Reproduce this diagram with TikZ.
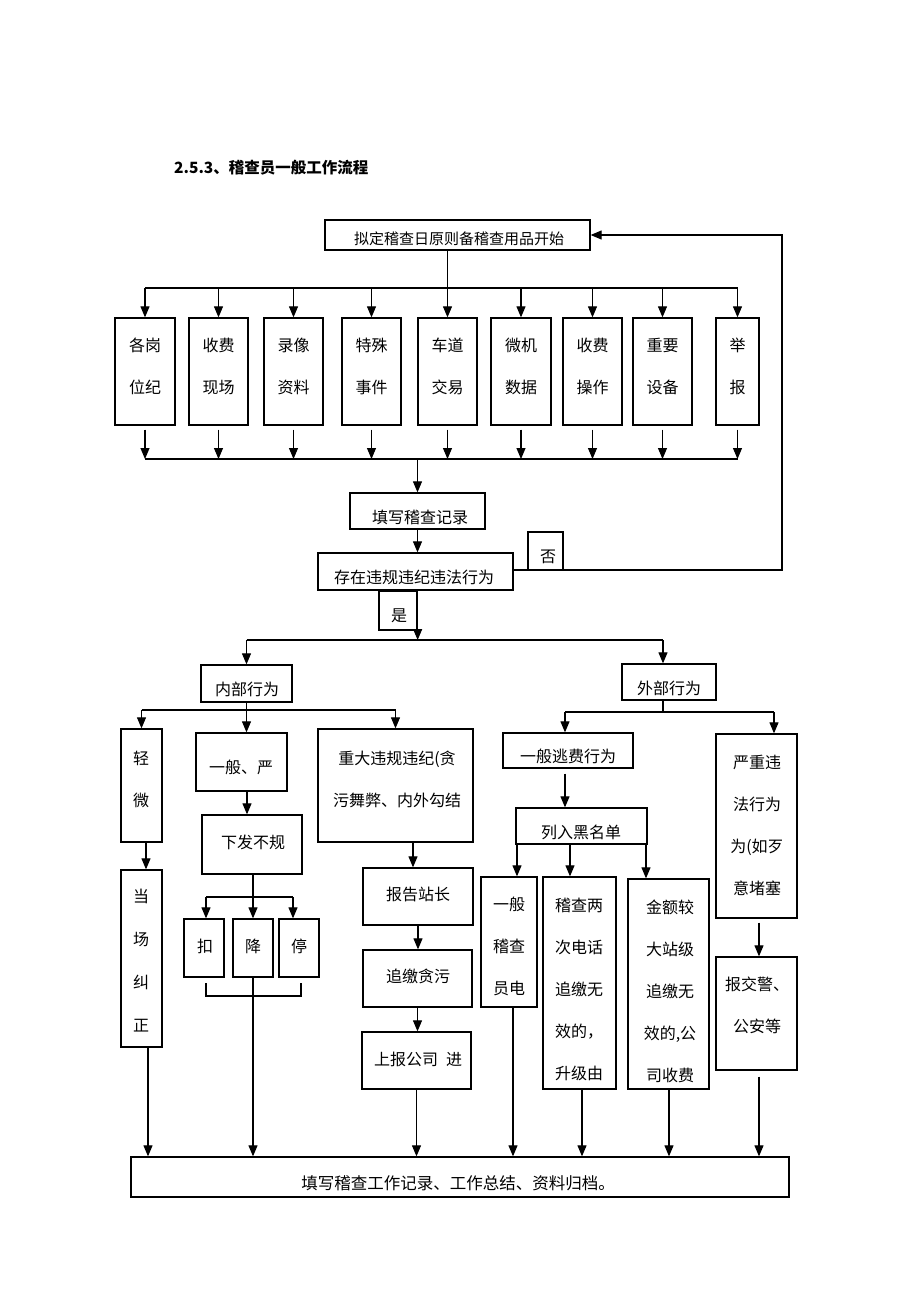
\documentclass[tikz,border=0pt]{standalone}
\usepackage{fontspec}
\setmainfont{Noto Sans CJK SC}
\usetikzlibrary{arrows.meta,fit}
\newcommand\mkbox[5]{\node[box, fit={(#2,#3) (#4,#5)}] (#1) {};}
\begin{document}
\begin{tikzpicture}[x=1pt,y=-1pt,
  box/.style={draw, line width=1.3pt, inner sep=0pt},
  txt/.style={inner sep=0pt, align=center, font=\fontsize{16}{42}\selectfont},
  ln/.style={line width=1.1pt},
  arr/.style={line width=1.1pt, -{Triangle[length=11pt,width=9pt]}}]
\useasboundingbox (0,0) rectangle (920,1302);
\fill[white] (0,0) rectangle (920,1302);

% helper coordinates
\coordinate (busT) at (0,288);
\coordinate (busB) at (0,459);
\coordinate (split) at (0,640);
\coordinate (s2) at (0,710);
\coordinate (s2w) at (0,712);
\coordinate (x146) at (146,0);
\coordinate (x148) at (148,0);
\coordinate (x247) at (247,0);
\coordinate (x413) at (413,0);
\coordinate (xw) at (663,0);
\coordinate (x565) at (565,0);
\coordinate (x774) at (774,0);
\coordinate (x517) at (517,0);
\coordinate (x570) at (570,0);
\coordinate (x646) at (646,0);
\coordinate (x759) at (759,0);
\coordinate (x513) at (513,0);
\coordinate (x582) at (582,0);
\coordinate (x669) at (669,0);

\node[anchor=west, inner sep=0pt, font=\fontsize{15.5}{15.5}\selectfont\bfseries] (title) at (174,168) {2.5.3、稽查员一般工作流程};

% top box
\mkbox{top}{325}{220}{590}{250}
\node[txt, font=\fontsize{15}{15}\selectfont] (ttop) at (459,239) {拟定稽查日原则备稽查用品开始};

% row of nine boxes
\mkbox{b1}{115}{318}{175}{425}
\mkbox{b2}{189}{318}{248}{425}
\mkbox{b3}{264}{318}{323}{425}
\mkbox{b4}{342}{318}{401}{425}
\mkbox{b5}{418}{318}{477}{425}
\mkbox{b6}{491}{318}{551}{425}
\mkbox{b7}{563}{318}{622}{425}
\mkbox{b8}{633}{318}{692}{425}
\mkbox{b9}{716}{318}{759}{425}
\node[txt] (tb1) at ([yshift=5pt]b1.center) {各岗\\位纪};
\node[txt] (tb2) at ([yshift=5pt]b2.center) {收费\\现场};
\node[txt] (tb3) at ([yshift=5pt]b3.center) {录像\\资料};
\node[txt] (tb4) at ([yshift=5pt]b4.center) {特殊\\事件};
\node[txt] (tb5) at ([yshift=5pt]b5.center) {车道\\交易};
\node[txt] (tb6) at ([yshift=5pt]b6.center) {微机\\数据};
\node[txt] (tb7) at ([yshift=5pt]b7.center) {收费\\操作};
\node[txt] (tb8) at ([yshift=5pt]b8.center) {重要\\设备};
\node[txt] (tb9) at ([yshift=5pt]b9.center) {举\\报};

\draw[arr] (top.south -| b5.north) -- (b5.north);
\draw[ln] (b1.north |- busT) -- (b9.north |- busT);
\foreach \i in {1,2,3,4,6,7,8,9} {\draw[arr] (b\i.north |- busT) -- (b\i.north);}
\foreach \i in {1,...,9} {\draw[arr] ([yshift=-4pt]b\i.south) -- (b\i.south |- busB);}
\draw[ln] (b1.south |- busB) -- (b9.south |- busB);

% record and decision
\mkbox{rec}{350}{493}{485}{529}
\node[txt] (trec) at (420,517) {填写稽查记录};
\mkbox{dec}{318}{553}{513}{590}
\node[txt] (tdec) at (414,577) {存在违规违纪违法行为};
\mkbox{no}{528}{532}{563}{570}
\node[txt] (tno) at (548,557) {否};
\mkbox{yes}{379}{591}{417}{630}
\node[txt] (tyes) at (399,616) {是};

\draw[arr] (rec.north |- busB) -- (rec.north);
\draw[arr] (rec.south) -- (rec.south |- dec.north);
\coordinate (fb1) at (782,570);
\coordinate (fb2) at (782,235);
\draw[arr] (dec.east |- fb1) -- (fb1) -- (fb2) -- (top.east |- fb2);
\draw[arr] (yes.east |- dec.south) -- (yes.east |- split);

% internal / external
\mkbox{nb}{201}{665}{292}{702}
\node[txt] (tnb) at (247,689) {内部行为};
\mkbox{wb}{622}{664}{716}{700}
\node[txt] (twb) at (669,688) {外部行为};
\draw[ln] (nb.north |- split) -- (xw |- split);
\draw[arr] (nb.north |- split) -- (nb.north);
\draw[arr] (xw |- split) -- (wb.north -| xw);

% internal branch
\mkbox{q}{121}{729}{162}{842}
\node[txt] (tq) at (141,779) {轻\\微};
\mkbox{yb}{196}{733}{287}{791}
\node[txt] (tyb) at (241,767) {一般、严};
\mkbox{zd}{318}{729}{473}{842}
\node[txt] (tzd) at (397,779) {重大违规违纪(贪\\污舞弊、内外勾结};
\draw[ln] (nb.south) -- (nb.south |- s2);
\draw[ln] (q.north |- s2) -- (zd.north |- s2);
\draw[arr] (q.north |- s2) -- (q.north);
\draw[arr] (nb.south |- s2) -- (nb.south |- yb.north);
\draw[arr] (zd.north |- s2) -- (zd.north);

\mkbox{xf}{202}{815}{302}{874}
\node[txt] (txf) at (253,842) {下发不规};
\draw[arr] (yb.south -| x247) -- (xf.north -| x247);

\mkbox{kou}{184}{919}{224}{977}
\mkbox{jiang}{233}{919}{273}{977}
\mkbox{ting}{279}{919}{319}{977}
\node[txt] (tkou) at (205,946) {扣};
\node[txt] (tjiang) at (253,946) {降};
\node[txt] (tting) at (299,946) {停};
\coordinate (k1) at (206,897);
\coordinate (k2) at (293,897);
\draw[arr] (xf.south -| jiang.north) -- (jiang.north);
\draw[ln] (k1) -- (k2);
\draw[arr] (k1) -- (kou.north -| k1);
\draw[arr] (k2) -- (ting.north -| k2);
\draw[ln] (206,983) -- (206,996) -- (301,996) -- (301,983);

\mkbox{dc}{121}{870}{162}{1047}
\node[txt, font=\fontsize{16}{43}\selectfont] (tdc) at (141,961) {当\\场\\纠\\正};
\draw[arr] (q.south -| x146) -- (dc.north -| x146);

\mkbox{bz}{363}{868}{473}{925}
\node[txt] (tbz) at (418,894) {报告站长};
\mkbox{zj}{363}{950}{472}{1007}
\node[txt] (tzj) at (418,976) {追缴贪污};
\mkbox{sb}{362}{1032}{471}{1089}
\node[txt] (tsb) at (418,1059) {上报公司\enspace 进};
\draw[arr] (zd.south -| x413) -- (bz.north -| x413);
\draw[arr] (bz.south) -- (bz.south |- zj.north);
\draw[arr] (zj.south) -- (zj.south |- sb.north);

% external branch
\mkbox{yt}{503}{733}{633}{768}
\node[txt] (tyt) at (568,756) {一般逃费行为};
\mkbox{yz}{716}{734}{797}{918}
\node[txt] (tyz) at (757,825) {严重违\\法行为\\为(如歹\\意堵塞};
\draw[ln] (wb.south -| xw) -- (xw |- s2w);
\draw[ln] (x565 |- s2w) -- (x774 |- s2w);
\draw[arr] (x565 |- s2w) -- (yt.north -| x565);
\draw[arr] (x774 |- s2w) -- (yz.north -| x774);

\mkbox{lr}{516}{808}{647}{844}
\node[txt] (tlr) at (581,832) {列入黑名单};
\draw[arr] ([yshift=-5pt]yt.south -| x565) -- (lr.north -| x565);

\mkbox{c1}{481}{877}{537}{1007}
\node[txt] (tc1) at (509,946) {一般\\稽查\\员电};
\mkbox{c2}{543}{877}{616}{1089}
\node[txt] (tc2) at (579,989) {稽查两\\次电话\\追缴无\\效的，\\升级由};
\mkbox{c3}{628}{879}{709}{1089}
\node[txt] (tc3) at (670,991) {金额较\\大站级\\追缴无\\效的,公\\司收费};
\draw[arr] (lr.south -| x517) -- (c1.north -| x517);
\draw[arr] (lr.south -| x570) -- (c2.north -| x570);
\draw[arr] (lr.south -| x646) -- (c3.north -| x646);

\mkbox{bj}{716}{957}{797}{1070}
\node[txt] (tbj) at (757,1005) {报交警、\\公安等};
\draw[arr] ([yshift=-4pt]yz.south -| x759) -- (bj.north -| x759);

% bottom
\mkbox{bot}{131}{1157}{789}{1197}
\node[txt, font=\fontsize{16.5}{16.5}\selectfont] (tbot) at (458,1183) {填写稽查工作记录、工作总结、资料归档。};
\draw[arr] (dc.south -| x148) -- (bot.north -| x148);
\draw[arr] (jiang.south) -- (jiang.south |- bot.north);
\draw[arr] (sb.south) -- (sb.south |- bot.north);
\draw[arr] (c1.south -| x513) -- (bot.north -| x513);
\draw[arr] (c2.south -| x582) -- (bot.north -| x582);
\draw[arr] (c3.south -| x669) -- (bot.north -| x669);
\draw[arr] ([yshift=-6pt]bj.south -| x759) -- (bot.north -| x759);
\end{tikzpicture}
\end{document}
